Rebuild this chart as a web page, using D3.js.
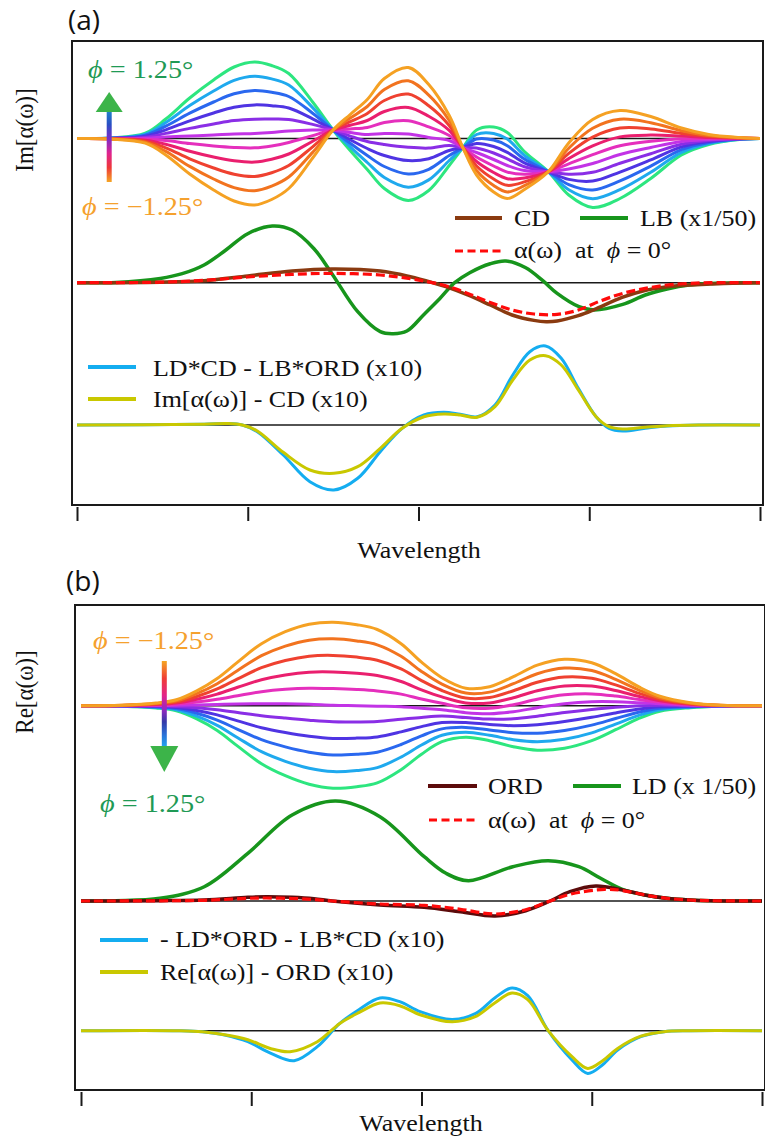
<!DOCTYPE html>
<html>
<head>
<meta charset="utf-8">
<script src="https://cdn.jsdelivr.net/npm/d3@7"></script>
<style>
  html, body { margin: 0; padding: 0; background: #fff; }
  svg { display: block; }
  text { font-family: "Liberation Serif", "Times New Roman", serif; }
</style>
</head>
<body>
<svg id="chart" width="765" height="1142"></svg>
<script>
// ---------------- data ----------------
const tickValues = [0, 25, 50, 75, 100];
const phiValues = [-1.25, -1.0, -0.75, -0.5, -0.25, 0, 0.25, 0.5, 0.75, 1.0, 1.25];
const phiColors = ["#f5a123", "#f2731f", "#ef4130", "#ea1f6e", "#e52fbd", "#c233e6",
                   "#8a2ee6", "#4f34e3", "#2a68ef", "#1fa9ee", "#2de67f"];

// Im[alpha(w)] for each phi (same order as phiValues)
const imWave = [0,5,10,13,16.5,20,23,26,28.5,31,34.5,37.5,40,42.5,45,48.5,51.5,54.5,56.5,58.5,61,63,65.5,69,72,75.5,79.5,84,88.5,92.5,97,100];
const imByPhi = [
  [0,-0.5,-4.7,-16.5,-35.5,-51.5,-62.5,-66.5,-61,-50,-19.5,8.5,24,39,60,71,54,23,-9.2,-36.5,-53.5,-60,-51,-33.2,-4.5,19,28,22,10.5,4,1,0],
  [0,-0.4,-3.7,-12.9,-27.9,-40.5,-49.1,-52.2,-47.6,-38.5,-13.9,8.5,20.4,32,49,57.7,43.4,18,-9.2,-32,-47,-53.4,-47.2,-33.2,-9.7,10.2,19.2,15.8,7.8,3,0.8,0],
  [0,-0.3,-2.7,-9.3,-20.3,-29.5,-35.7,-37.9,-34.2,-27,-8.3,8.5,16.8,25,38,44.4,32.8,13,-9.2,-27.5,-40.5,-46.8,-43.4,-33.2,-14.9,1.4,10.4,9.6,5.1,2,0.6,0],
  [0,-0.2,-1.7,-5.7,-12.7,-18.5,-22.3,-23.6,-20.8,-15.5,-2.7,8.5,13.2,18,27,31.1,22.2,8,-9.2,-23,-34,-40.2,-39.6,-33.2,-20.1,-7.4,1.6,3.4,2.4,1,0.4,0],
  [0,-0.1,-0.7,-2.1,-5.1,-7.5,-8.9,-9.3,-7.4,-4,2.9,8.5,9.6,11,16,17.8,11.6,3,-9.2,-18.5,-27.5,-33.6,-35.8,-33.2,-25.3,-16.2,-7.2,-2.8,-0.3,0,0.2,0],
  [0,0,0.3,1.5,2.5,3.5,4.5,5,6,7.5,8.5,8.5,6,4,5,4.5,1,-2,-9.2,-14,-21,-27,-32,-33.2,-30.5,-25,-16,-9,-3,-1,0,0],
  [0,0.1,1.3,5.1,10.1,14.5,17.9,19.3,19.4,19,14.1,8.5,2.4,-3,-6,-8.8,-9.6,-7,-9.2,-9.5,-14.5,-20.4,-28.2,-33.2,-35.7,-33.8,-24.8,-15.2,-5.7,-2,-0.2,0],
  [0,0.2,2.3,8.7,17.7,25.5,31.3,33.6,32.8,30.5,19.7,8.5,-1.2,-10,-17,-22.1,-20.2,-12,-9.2,-5,-8,-13.8,-24.4,-33.2,-40.9,-42.6,-33.6,-21.4,-8.4,-3,-0.4,0],
  [0,0.3,3.3,12.3,25.3,36.5,44.7,47.9,46.2,42,25.3,8.5,-4.8,-17,-28,-35.4,-30.8,-17,-9.2,-0.5,-1.5,-7.2,-20.6,-33.2,-46.1,-51.4,-42.4,-27.6,-11.1,-4,-0.6,0],
  [0,0.4,4.3,15.9,32.9,47.5,58.1,62.2,59.6,53.5,30.9,8.5,-8.4,-24,-39,-48.7,-41.4,-22,-9.2,4,5,-0.6,-16.8,-33.2,-51.3,-60.2,-51.2,-33.8,-13.8,-5,-0.8,0],
  [0,0.5,5.3,19.5,40.5,58.5,71.5,76.5,73,65,36.5,8.5,-12,-31,-50,-62,-52,-27,-9.2,8.5,11.5,6,-13,-33.2,-56.5,-69,-60,-40,-16.5,-6,-1,0]
];

// Re[alpha(w)] for each phi (same order as phiValues)
const reWave = [0,6,11,14,17,20,23,26.5,30,33.5,37,40.5,43.5,47,50,53,56.5,60,63.5,67,71,75,78.5,82,85,89.5,94,100];
const reByPhi = [
  [0,0.5,2.7,5.9,14.8,27.2,43.6,62,74,81.5,83.5,81,76.2,62,43.5,28,17.5,19,29,40.5,46.5,43,32,18.5,9.5,3,0.5,0],
  [0,0.4,2.2,4.8,12,22,35.2,50,59.6,65.5,66.9,64.8,60.9,49.4,34.3,21.6,12.6,13.6,22,32,37.6,35.2,26.4,15.4,8,2.5,0.4,0],
  [0,0.3,1.7,3.7,9.2,16.8,26.8,38,45.2,49.5,50.3,48.6,45.5,36.8,25.1,15.2,7.7,8.2,15,23.5,28.7,27.4,20.8,12.3,6.5,2,0.3,0],
  [0,0.2,1.2,2.6,6.4,11.6,18.4,26,30.8,33.5,33.7,32.4,30.2,24.2,15.9,8.8,2.8,2.8,8,15,19.8,19.6,15.2,9.2,5,1.5,0.2,0],
  [0,0.1,0.7,1.5,3.6,6.4,10,14,16.4,17.5,17.1,16.2,14.8,11.6,6.7,2.4,-2.1,-2.6,1,6.5,10.9,11.8,9.6,6.1,3.5,1,0.1,0],
  [0,0,0.2,0.4,0.8,1.2,1.6,2,2,1.5,0.5,0,-0.5,-1,-2.5,-4,-7,-8,-6,-2,2,4,4,3,2,0.5,0,0],
  [0,-0.1,-0.3,-0.7,-2,-4,-6.8,-10,-12.4,-14.5,-16.1,-16.2,-15.8,-13.6,-11.7,-10.4,-11.9,-13.4,-13,-10.5,-6.9,-3.8,-1.6,-0.1,0.5,0,-0.1,0],
  [0,-0.2,-0.8,-1.8,-4.8,-9.2,-15.2,-22,-26.8,-30.5,-32.7,-32.4,-31.2,-26.2,-20.9,-16.8,-16.8,-18.8,-20,-19,-15.8,-11.6,-7.2,-3.2,-1,-0.5,-0.2,0],
  [0,-0.3,-1.3,-2.9,-7.6,-14.4,-23.6,-34,-41.2,-46.5,-49.3,-48.6,-46.5,-38.8,-30.1,-23.2,-21.7,-24.2,-27,-27.5,-24.7,-19.4,-12.8,-6.3,-2.5,-1,-0.3,0],
  [0,-0.4,-1.8,-4,-10.4,-19.6,-32,-46,-55.6,-62.5,-65.9,-64.8,-61.9,-51.4,-39.3,-29.6,-26.6,-29.6,-34,-36,-33.6,-27.2,-18.4,-9.4,-4,-1.5,-0.4,0],
  [0,-0.5,-2.3,-5.1,-13.2,-24.8,-40.4,-58,-70,-78.5,-82.5,-81,-77.2,-64,-48.5,-36,-31.5,-35,-41,-44.5,-42.5,-35,-24,-12.5,-5.5,-2,-0.5,0]
];

// panel (a), middle: [wavelength, value]
const lbScaled = [[0,0],[5.7,0.3],[12.2,4.3],[15.4,9],[18.6,17.7],[21.8,32.7],[25,49],[28.6,56.7],[31.5,52.7],[34.7,34],[37.3,9.3],[41.1,-29],[44.4,-49],[46.3,-51],[48.3,-48.3],[50.8,-31.7],[53.1,-16],[55.3,0],[57.5,10],[60.5,19],[62.8,21.7],[65.7,15],[68.2,2],[70.3,-10.7],[73.5,-24],[75.7,-27.3],[79.9,-21.7],[83.2,-12.3],[86.4,-6.3],[89.6,-2.3],[92.8,-0.7],[97.1,0],[100,0]];
const cdValues = [[0,0],[12.2,0.5],[18.6,2],[25,6.7],[31.5,11.7],[37.3,13.7],[44.4,11.7],[48.8,6],[52.1,0],[54,-4],[57.2,-12.3],[60.5,-22.3],[63.7,-32.3],[66.9,-37.7],[68.7,-39],[70.3,-38.3],[73.4,-33],[75.7,-27],[79.8,-14.7],[83,-8],[86.4,-4],[89.6,-2.3],[92.8,-1.3],[96,-0.5],[100,0]];
const imAlphaZero = [[0,0],[12.2,0.5],[18.6,2.3],[25,5.7],[31.5,8.3],[37.3,9.3],[44.4,7.7],[48.8,4],[50.8,1.7],[54,-3],[57.2,-10.7],[60.5,-19.7],[63.7,-27.3],[66.9,-31.3],[70.3,-31.7],[73.4,-27.3],[76.6,-18.3],[79.9,-10.7],[83.2,-5.7],[86.4,-2.3],[89.6,-0.7],[92.8,0],[100,0]];
// panel (a), bottom (x10)
const imProduct = [[0,0],[18.6,0.8],[22,1.5],[24.2,0],[26.4,-6.7],[30.2,-30],[34.1,-56.7],[37.6,-65],[41.1,-53.3],[44.4,-26.7],[47.6,-3.3],[50.8,10],[53.7,12.7],[56.1,10.7],[58.6,8.3],[61.2,20],[63.8,50],[66.3,73.3],[68.6,79],[70.9,66.7],[73.4,36.7],[76,8.3],[77.9,-3.3],[79.9,-6],[83.2,-3.3],[86.4,-1],[91.2,0],[100,0]];
const imResidual = [[0,0],[18.6,0.8],[22,1.5],[24.2,0],[26.4,-6],[30.2,-27.3],[34.1,-45],[37.6,-48.3],[41.1,-41.7],[44.4,-23.3],[47.6,-3.3],[50.8,8.3],[53.7,11],[56.1,10],[58.6,7.7],[61.2,18.3],[63.8,45],[66.3,65],[68.6,69.3],[70.9,60],[73.4,35],[76,8.3],[77.9,-1.7],[79.9,-4],[83.2,-2.3],[86.4,-0.7],[91.2,0],[100,0]];

// panel (b), middle
const ldScaled = [[0,0],[5.1,0.3],[11.6,2.7],[18.1,14.3],[24.5,47.7],[31,86],[37.4,100],[43.9,84.3],[50.4,44.3],[53.6,27.7],[56.9,20.3],[63.4,34.3],[68.6,40.3],[73.1,34.3],[76.3,22.7],[79.5,11.7],[82.8,6],[86,2.7],[89.3,1],[92.5,0.3],[100,0]];
const ordValues = [[0,0],[11.6,0.3],[18.1,1],[24.5,3.7],[27.2,4.3],[31,3.7],[34.2,2.3],[36.9,0],[43.9,-4],[50.4,-6.3],[55.7,-10.7],[60.8,-15],[65.3,-9.7],[68.9,0],[71.8,9.3],[75.6,15],[79.5,11],[82.8,6],[86,2.7],[89.3,1],[92.5,0.3],[100,0]];
const reAlphaZero = [[0,0],[18.1,0.7],[24.5,2.7],[27.2,3],[31,2.5],[34.2,1.5],[36.9,0],[43.9,-3],[50.4,-4.3],[55.7,-8.3],[60.8,-13],[65.3,-8.7],[68.9,0],[71.8,6.7],[76.9,11.7],[79.5,10.5],[82.8,6],[86,2.7],[89.3,1],[92.5,0.3],[100,0]];
// panel (b), bottom (x10)
const reProduct = [[0,0],[14.4,0],[17.8,-1],[21.1,-4.3],[24.5,-11],[27.9,-22.7],[31.3,-30],[34.7,-16],[38,7.3],[40.8,21],[43.9,32.7],[46.8,29],[49.8,19],[54.5,11.3],[57.9,17],[60.8,33],[63.3,42.7],[65.6,35],[68.6,0],[72.1,-29.3],[74.4,-42.7],[76.6,-34],[78.8,-19.3],[82.2,-6],[85.6,-1],[89.4,0],[100,0]];
const reResidual = [[0,0],[14.4,0],[17.8,-1],[21.1,-4],[24.5,-9],[27.9,-18],[30.7,-21],[34.7,-11],[38,7.3],[40.8,18],[43.9,27.7],[46.8,25],[49.8,16],[54.5,9],[57.9,14],[60.8,28],[63.3,37.7],[65.6,31],[68.6,0],[72.1,-26],[74.4,-37.7],[76.6,-30],[78.8,-17.7],[82.2,-5.5],[85.6,-1],[89.4,0],[100,0]];

// ---------------- drawing ----------------
const svg = d3.select("#chart");
const INK = "#1a1a1a";
const FS = 23;      // serif text size
const SX = 1.13;    // horizontal text stretch

function label(g, x, y, parts, o = {}) {
  const rot = o.rotate || 0;
  const t = g.append("text")
    .attr("transform", rot
      ? `translate(${x},${y}) rotate(${rot}) scale(1,${SX})`
      : `translate(${x},${y}) scale(${o.sx || SX},1)`)
    .attr("font-size", o.size || FS)
    .attr("text-anchor", o.anchor || "start")
    .attr("fill", o.color || "#111")
    .style("white-space", "pre");
  if (o.family) t.style("font-family", o.family);
  parts.forEach(p => {
    const s = t.append("tspan").text(typeof p === "string" ? p : p.t);
    if (p.italic) s.attr("font-style", "italic");
  });
  return t;
}

const defs = svg.append("defs");
function gradient(id, stops) {
  const lg = defs.append("linearGradient").attr("id", id)
    .attr("x1", 0).attr("y1", 0).attr("x2", 0).attr("y2", 1);
  stops.forEach(([o, c]) => lg.append("stop").attr("offset", o).attr("stop-color", c));
}
gradient("shaftUp", [[0, "#1f86c9"], [0.2, "#2a4fc4"], [0.4, "#7a2cc8"], [0.6, "#df2390"], [0.8, "#ee3838"], [1, "#f5a623"]]);
gradient("shaftDown", [[0, "#f5a623"], [0.2, "#ef3d35"], [0.4, "#e3238a"], [0.55, "#9a28c0"], [0.7, "#343aa8"], [0.85, "#2a72d8"], [1, "#20aaf0"]]);

function drawPanel(p) {
  const g = svg.append("g");
  const x = d3.scaleLinear().domain([0, 100]).range(p.xRange);
  const yAt = base => d3.scaleLinear().domain([-100, 100]).range([base + 100, base - 100]);
  const lineFor = y => d3.line().x(d => x(d[0])).y(d => y(d[1]))
    .curve(d3.curveCatmullRom.alpha(0.5));

  // frame
  g.append("rect")
    .attr("x", p.frame[0]).attr("y", p.frame[1])
    .attr("width", p.frame[2]).attr("height", p.frame[3])
    .attr("fill", "none").attr("stroke", INK).attr("stroke-width", 2);

  // detached bottom ticks
  const axis = d3.axisBottom(x).tickValues(tickValues).tickSize(14).tickFormat("");
  g.append("g").attr("transform", `translate(0,${p.tickY})`).call(axis)
    .call(s => {
      s.select(".domain").remove();
      s.selectAll(".tick line").attr("stroke", INK).attr("stroke-width", 2);
    });

  const yTop = yAt(p.bases[0]), yMid = yAt(p.bases[1]), yBot = yAt(p.bases[2]);

  // zero lines
  [yTop, yMid, yBot].forEach(y => {
    g.append("line").attr("x1", x(0)).attr("x2", x(100))
      .attr("y1", y(0)).attr("y2", y(0))
      .attr("stroke", INK).attr("stroke-width", 1.5);
  });

  // phi family (phi = +1.25 drawn first, -1.25 on top)
  const fam = p.family.map((vals, i) => ({ phi: phiValues[i], color: phiColors[i],
    pts: p.wave.map((w, j) => [w, vals[j]]) }));
  g.append("g").selectAll("path").data(fam.slice().reverse()).join("path")
    .attr("d", d => lineFor(yTop)(d.pts))
    .attr("fill", "none").attr("stroke", d => d.color).attr("stroke-width", 3);

  // middle group
  g.append("path").attr("d", lineFor(yMid)(p.bigSeries))
    .attr("fill", "none").attr("stroke", "#17951c").attr("stroke-width", 3.5);
  g.append("path").attr("d", lineFor(yMid)(p.refSeries))
    .attr("fill", "none").attr("stroke", p.refColor).attr("stroke-width", 3.5);
  g.append("path").attr("d", lineFor(yMid)(p.zeroSeries))
    .attr("fill", "none").attr("stroke", "#ff0a0a").attr("stroke-width", 3.2)
    .attr("stroke-dasharray", "9,4");

  // bottom group
  g.append("path").attr("d", lineFor(yBot)(p.prodSeries))
    .attr("fill", "none").attr("stroke", "#14adf0").attr("stroke-width", 3);
  g.append("path").attr("d", lineFor(yBot)(p.resSeries))
    .attr("fill", "none").attr("stroke", "#c9c800").attr("stroke-width", 3);

  return g;
}

// ----- panel (a) -----
const gA = drawPanel({
  frame: [72, 41, 691, 464], xRange: [77, 760], tickY: 507,
  bases: [138.5, 282.7, 425],
  wave: imWave, family: imByPhi,
  bigSeries: lbScaled, refSeries: cdValues, refColor: "#8a3a10", zeroSeries: imAlphaZero,
  prodSeries: imProduct, resSeries: imResidual
});

// ----- panel (b) -----
const gB = drawPanel({
  frame: [75, 605, 690, 485], xRange: [81, 762], tickY: 1092,
  bases: [705.7, 901, 1030.7],
  wave: reWave, family: reByPhi,
  bigSeries: ldScaled, refSeries: ordValues, refColor: "#5c0b0b", zeroSeries: reAlphaZero,
  prodSeries: reProduct, resSeries: reResidual
});

// ---------- annotations ----------
const PHI = { t: "\u03D5", italic: true };
function legendLine(g, x1, x2, y, color, dashed) {
  const l = g.append("line").attr("x1", x1).attr("x2", x2).attr("y1", y).attr("y2", y)
    .attr("stroke", color).attr("stroke-width", 4);
  if (dashed) l.attr("stroke-dasharray", "8,4.5").attr("stroke-width", 3.2);
}

// panel (a)
label(gA, 68, 30, ["(a)"], { family: "'Open Sans', 'Noto Sans', sans-serif", size: 28, sx: 1 });
label(gA, 33, 130, ["Im[α(ω)]"], { rotate: -90, anchor: "middle" });
label(gA, 419, 558, ["Wavelength"], { anchor: "middle" });
label(gA, 88, 78, [PHI, " = 1.25°"], { color: "#1f9a55", size: 25 });
label(gA, 82, 215, [PHI, " = \u22121.25°"], { color: "#f5a12e", size: 25 });
// arrow, pointing up
gA.append("rect").attr("x", 106.7).attr("y", 110).attr("width", 5).attr("height", 72).attr("fill", "url(#shaftUp)");
gA.append("path").attr("d", "M109.2,92 L122.7,112 L95.7,112 Z").attr("fill", "#3cb449");

legendLine(gA, 455, 502, 218, "#8a3a10");
label(gA, 514, 226, ["CD"]);
legendLine(gA, 580, 628, 218, "#17951c");
label(gA, 640, 226, ["LB (x1/50)"]);
legendLine(gA, 455, 502, 251, "#ff0a0a", true);
label(gA, 514, 258, ["α(ω)  at  ", PHI, " = 0°"]);
legendLine(gA, 88, 136, 367, "#14adf0");
label(gA, 153, 376, ["LD*CD - LB*ORD (x10)"]);
legendLine(gA, 88, 136, 399, "#c9c800");
label(gA, 153, 407, ["Im[α(ω)] - CD (x10)"]);

// panel (b)
label(gB, 66, 591, ["(b)"], { family: "'Open Sans', 'Noto Sans', sans-serif", size: 28, sx: 1 });
label(gB, 33, 692, ["Re[α(ω)]"], { rotate: -90, anchor: "middle" });
label(gB, 421, 1131, ["Wavelength"], { anchor: "middle" });
label(gB, 93, 649, [PHI, " = \u22121.25°"], { color: "#f5a12e", size: 25 });
label(gB, 100, 812, [PHI, " = 1.25°"], { color: "#1f9a55", size: 25 });
// arrow, pointing down
gB.append("rect").attr("x", 161.8).attr("y", 661).attr("width", 5).attr("height", 87).attr("fill", "url(#shaftDown)");
gB.append("path").attr("d", "M164.3,772 L178.3,746 L150.3,746 Z").attr("fill", "#3cb449");

legendLine(gB, 428, 477, 786, "#5c0b0b");
label(gB, 488, 794, ["ORD"]);
legendLine(gB, 573, 621, 786, "#17951c");
label(gB, 632, 794, ["LD (x 1/50)"]);
legendLine(gB, 429, 477, 820, "#ff0a0a", true);
label(gB, 488, 828, ["α(ω)  at  ", PHI, " = 0°"]);
legendLine(gB, 100, 148, 940, "#14adf0");
label(gB, 160, 947, ["- LD*ORD - LB*CD (x10)"]);
legendLine(gB, 100, 148, 972, "#c9c800");
label(gB, 160, 980, ["Re[α(ω)] - ORD (x10)"]);
</script>
</body>
</html>
